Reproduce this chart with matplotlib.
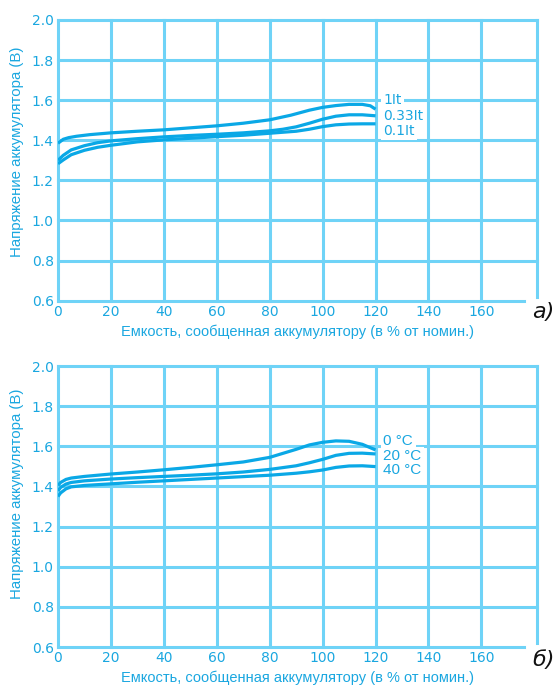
import numpy as np
import matplotlib
matplotlib.use('Agg')
import matplotlib.pyplot as plt

# --- данные ---
x_1it = [0, 1, 2, 4, 7, 12, 20, 30, 40, 50, 60, 70, 80, 88, 95, 100, 105, 110, 115, 118, 120]
v_1it = [1.385, 1.395, 1.405, 1.413, 1.420, 1.428, 1.437, 1.445, 1.452, 1.462, 1.472, 1.485,
         1.502, 1.525, 1.550, 1.564, 1.573, 1.579, 1.579, 1.572, 1.555]
x_033 = [0, 2, 5, 10, 15, 20, 30, 40, 50, 60, 70, 80, 85, 90, 95, 100, 105, 110, 115, 120]
v_033 = [1.300, 1.325, 1.352, 1.373, 1.388, 1.397, 1.408, 1.417, 1.424, 1.430, 1.437, 1.447,
         1.455, 1.467, 1.485, 1.505, 1.520, 1.527, 1.527, 1.522]
x_01 = [0, 2, 5, 10, 15, 20, 30, 40, 50, 60, 70, 80, 90, 95, 100, 105, 110, 115, 120]
v_01 = [1.283, 1.302, 1.328, 1.350, 1.365, 1.375, 1.392, 1.402, 1.410, 1.418, 1.425, 1.435,
        1.445, 1.455, 1.468, 1.477, 1.481, 1.482, 1.482]

x_t = [0, 1, 3, 5, 10, 20, 30, 40, 50, 60, 70, 80, 90, 95, 100, 105, 110, 115, 120]
v_0c = [1.405, 1.420, 1.435, 1.442, 1.450, 1.462, 1.472, 1.483, 1.495, 1.508, 1.522, 1.545,
        1.585, 1.607, 1.620, 1.627, 1.625, 1.610, 1.582]
v_20c = [1.378, 1.395, 1.412, 1.420, 1.428, 1.437, 1.444, 1.450, 1.456, 1.463, 1.472, 1.485,
         1.503, 1.518, 1.535, 1.555, 1.565, 1.566, 1.562]
v_40c = [1.350, 1.368, 1.388, 1.398, 1.405, 1.413, 1.421, 1.428, 1.435, 1.442, 1.449, 1.456,
         1.466, 1.473, 1.482, 1.495, 1.502, 1.503, 1.499]

labels_a = ['1It', '0.33It', '0.1It']
labels_b = ['0 °C', '20 °C', '40 °C']
xticks = [0, 20, 40, 60, 80, 100, 120, 140, 160]
yticks = [0.6, 0.8, 1.0, 1.2, 1.4, 1.6, 1.8, 2.0]

c_grid = '#6fd3f7'
c_line = '#0aa8e6'
c_text = '#1aa7e0'
narrow = ['Liberation Sans', 'DejaVu Sans']

xlabel = 'Емкость, сообщенная аккумулятору (в % от номин.)'
ylabel = 'Напряжение аккумулятора (В)'

fig = plt.figure(figsize=(5.56, 6.9), dpi=100)


def panel(rect, xs, ys, labels, label_y, label_font, label_size):
    ax = fig.add_axes(rect)
    ax.set_xlim(0, 181)
    ax.set_ylim(0.6, 2.0)
    for s in ax.spines.values():
        s.set_visible(False)
    # сетка
    for yv in yticks[1:]:
        ax.plot([0, 181], [yv, yv], color=c_grid, lw=2.2, clip_on=False, zorder=1)
    for xv in xticks:
        ax.plot([xv, xv], [0.6, 2.0], color=c_grid, lw=2.2, clip_on=False, zorder=1)
    ax.plot([181, 181], [0.62, 2.0], color=c_grid, lw=2.2, clip_on=False, zorder=1)
    ax.plot([0, 176], [0.6, 0.6], color=c_grid, lw=2.2, clip_on=False, zorder=1)

    for x, y in zip(xs, ys):
        ax.plot(x, y, color=c_line, lw=2.3, zorder=3, solid_capstyle='butt')
    for lab, ly in zip(labels, label_y):
        ax.text(123, ly, lab, color=c_text, fontsize=label_size, family=label_font,
                va='center', ha='left', zorder=4,
                bbox=dict(boxstyle='square,pad=0.15', fc='white', ec='none'))

    ax.set_xticks(xticks)
    ax.set_yticks(yticks)
    ax.set_yticklabels([f'{v:.1f}' for v in yticks])
    ax.tick_params(length=0, colors=c_text, labelsize=10, pad=3)
    ax.set_xlabel(xlabel, color=c_text, fontsize=10.5, family=narrow, labelpad=4)
    return ax


ax1 = panel([0.1043, 0.5642, 0.8615, 0.4069],
            [x_1it, x_033, x_01], [v_1it, v_033, v_01],
            labels_a, [1.60, 1.523, 1.445], ['DejaVu Sans'], 10)
ax2 = panel([0.1043, 0.0623, 0.8615, 0.4072],
            [x_t, x_t, x_t], [v_0c, v_20c, v_40c],
            labels_b, [1.627, 1.552, 1.48], narrow, 11)

fig.text(0.031, 0.780, ylabel, rotation=90, color=c_text, fontsize=10.8,
         family=narrow, ha='center', va='center')
fig.text(0.031, 0.284, ylabel, rotation=90, color=c_text, fontsize=10.8,
         family=narrow, ha='center', va='center')

fig.text(0.997, 0.548, 'а)', fontsize=16, style='italic', color='#111111',
         ha='right', va='center')
fig.text(0.997, 0.043, 'б)', fontsize=16, style='italic', color='#111111',
         ha='right', va='center')

fig.savefig('out.png', dpi=100)
